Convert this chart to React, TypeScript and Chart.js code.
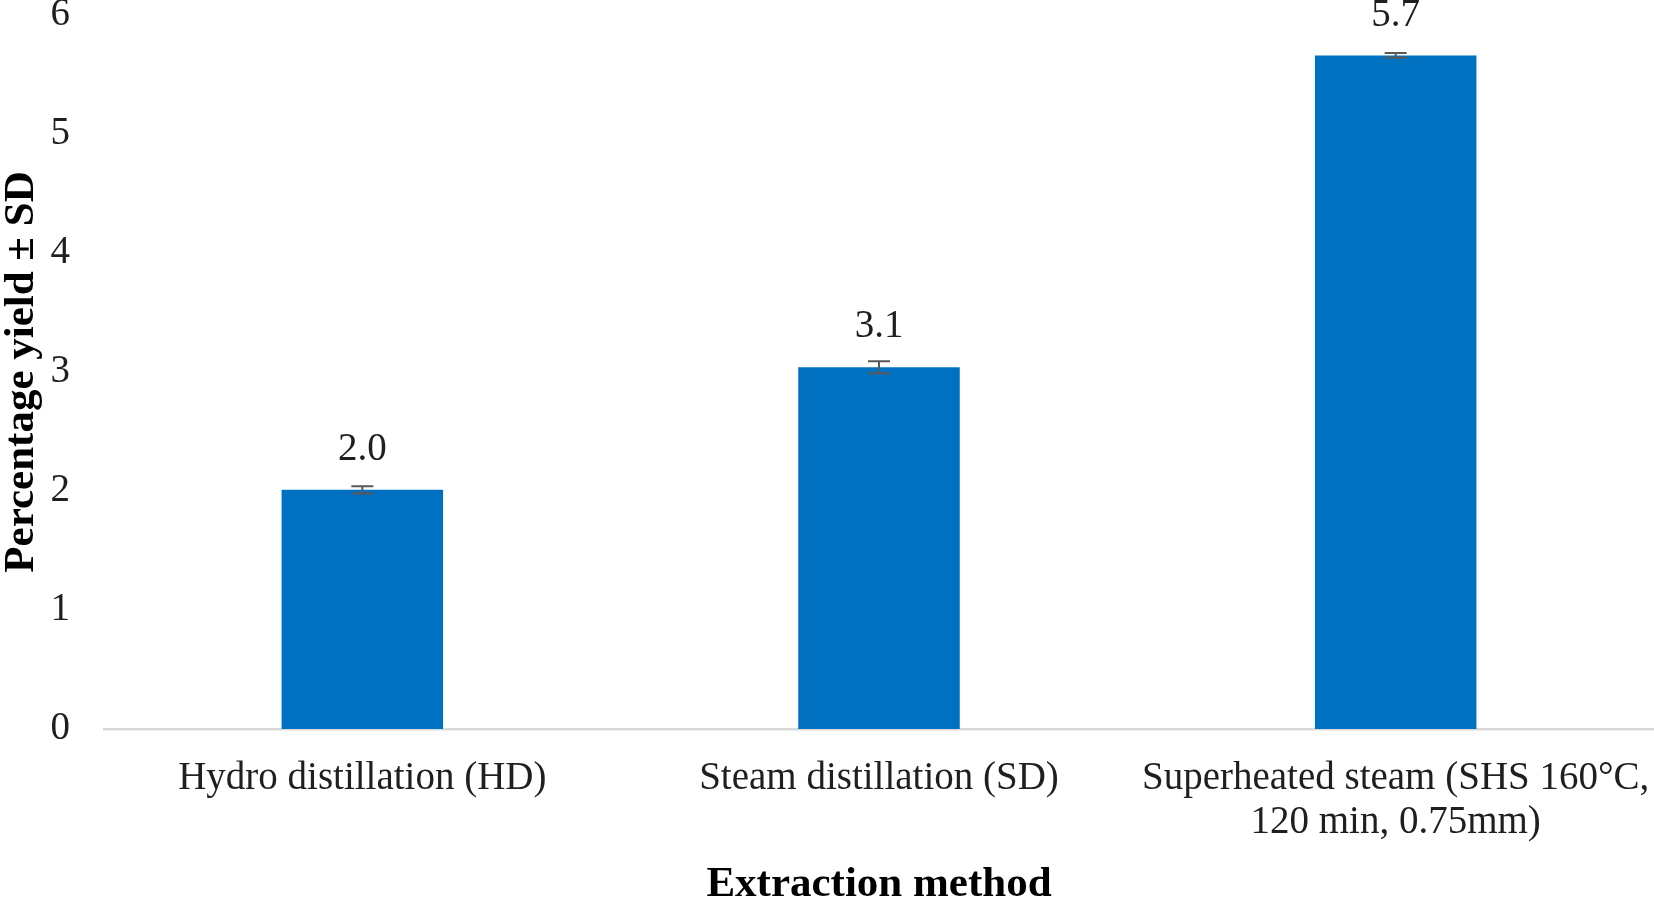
import React, { useEffect, useRef } from "react";
import { Chart, registerables } from "chart.js";

Chart.register(...registerables);

const categories: (string | string[])[] = [
  "Hydro distillation (HD)",
  "Steam distillation (SD)",
  ["Superheated steam (SHS 160°C,", "120 min, 0.75mm)"],
];
const yieldValues = [2.01, 3.04, 5.66];
const sdValues = [0.03, 0.05, 0.02];
const valueLabels = ["2.0", "3.1", "5.7"];
const yMin = 0;
const yMax = 6;
const yStep = 1;

const FONT = '"Liberation Serif", "Times New Roman", serif';
const CANVAS_W = 1654;
const CANVAS_H = 926;
const CANVAS_TOP = -20;
const PLOT_TOP = 35; // canvas px of y = 6
const PLOT_BOTTOM = 749; // canvas px of y = 0

const overlayPlugin = {
  id: "errorBarsAndLabels",
  afterDatasetsDraw(chart: any) {
    const { ctx } = chart;
    const yScale = chart.scales.y;
    const meta = chart.getDatasetMeta(0);
    meta.data.forEach((bar: any, i: number) => {
      const x = bar.x;
      const v = yieldValues[i];
      const sd = sdValues[i];
      const yTop = yScale.getPixelForValue(v + sd);
      const yBot = yScale.getPixelForValue(v - sd);
      ctx.save();
      ctx.strokeStyle = "#595959";
      ctx.lineWidth = 2;
      ctx.beginPath();
      ctx.moveTo(x, yTop);
      ctx.lineTo(x, yBot);
      ctx.moveTo(x - 11, yTop);
      ctx.lineTo(x + 11, yTop);
      ctx.moveTo(x - 11, yBot);
      ctx.lineTo(x + 11, yBot);
      ctx.stroke();
      ctx.fillStyle = "#1f1f1f";
      ctx.font = `39px ${FONT}`;
      ctx.textAlign = "center";
      ctx.textBaseline = "middle";
      ctx.fillText(valueLabels[i], x, yScale.getPixelForValue(v) - 40);
      ctx.restore();
    });
  },
};

export default function App() {
  const canvasRef = useRef<HTMLCanvasElement | null>(null);

  useEffect(() => {
    const canvas = canvasRef.current;
    if (!canvas) return;
    const chart = new Chart(canvas, {
      type: "bar",
      data: {
        labels: categories as any,
        datasets: [
          {
            data: yieldValues,
            backgroundColor: "#0070C0",
            borderWidth: 0,
            categoryPercentage: 1,
            barPercentage: 0.3126,
          },
        ],
      },
      options: {
        responsive: false,
        animation: false,
        devicePixelRatio: 1,
        layout: { padding: { top: PLOT_TOP, left: 0, right: 0, bottom: 0 } },
        plugins: {
          legend: { display: false },
          tooltip: { enabled: false },
          title: { display: false },
        },
        scales: {
          x: {
            grid: { display: false, drawTicks: false },
            border: { display: true, color: "#d9d9d9", width: 2.5 },
            ticks: {
              color: "#1f1f1f",
              padding: 28,
              autoSkip: false,
              maxRotation: 0,
              minRotation: 0,
              font: { family: FONT, size: 39, lineHeight: 1.13 },
            },
            title: {
              display: true,
              text: "Extraction method",
              color: "#000000",
              padding: { top: 0, bottom: 0 },
              font: { family: FONT, size: 43, weight: "bold", lineHeight: 1 },
            },
            afterFit: (scale: any) => {
              scale.height = CANVAS_H - PLOT_BOTTOM;
              scale.paddingLeft = 0;
              scale.paddingRight = 0;
            },
          },
          y: {
            min: yMin,
            max: yMax,
            grid: { display: false, drawTicks: false },
            border: { display: false },
            ticks: {
              stepSize: yStep,
              color: "#1f1f1f",
              padding: 34,
              font: { family: FONT, size: 39 },
            },
            title: {
              display: true,
              text: "Percentage yield ± SD",
              color: "#000000",
              padding: { top: 0, bottom: 0 },
              font: { family: FONT, size: 43, weight: "bold", lineHeight: 1 },
            },
            afterFit: (scale: any) => {
              scale.width = 104;
              scale.paddingTop = 0;
              scale.paddingBottom = 0;
            },
          },
        },
      } as any,
      plugins: [overlayPlugin],
    });
    return () => chart.destroy();
  }, []);

  return (
    <div
      style={{
        position: "fixed",
        left: 0,
        top: CANVAS_TOP,
        width: CANVAS_W,
        height: CANVAS_H,
        background: "#ffffff",
      }}
    >
      <canvas
        ref={canvasRef}
        width={CANVAS_W}
        height={CANVAS_H}
        style={{ display: "block", width: CANVAS_W, height: CANVAS_H }}
      />
    </div>
  );
}
